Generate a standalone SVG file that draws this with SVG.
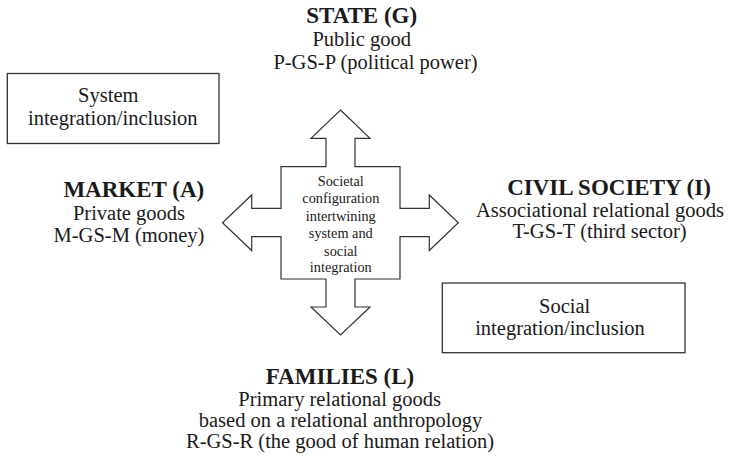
<svg xmlns="http://www.w3.org/2000/svg" width="730" height="458" viewBox="0 0 730 458" font-family="'Liberation Serif', serif">
<style>
.h { font-family: 'Liberation Serif', serif; font-size: 23px; font-weight: bold; fill: #1a1a1a; text-anchor: middle; }
.b { font-family: 'Liberation Serif', serif; font-size: 20.5px; fill: #1a1a1a; text-anchor: middle; }
.c { font-family: 'Liberation Serif', serif; font-size: 14.3px; fill: #1a1a1a; text-anchor: middle; }
.box { fill: #fff; stroke: #333; stroke-width: 1.3; }
.cross { fill: #fff; stroke: #333; stroke-width: 1.2; stroke-linejoin: miter; }
</style>
<rect width="730" height="458" fill="#fff"/>
<g id="connectors"></g>
<g id="center">
<path class="cross" d="M340.5,110 L370,138.3 L355,138.3 L355,166.7 L400,166.7 L400,208.3 L429.3,208.3 L429.3,195 L458.3,222.7 L429.3,250.5 L429.3,236.7 L400,236.7 L400,279 L355,279 L355,307 L370,307 L340.5,335 L311,307 L326,307 L326,279 L281,279 L281,236.7 L251.7,236.7 L251.7,250.5 L222.5,222.7 L251.7,195 L251.7,208.3 L281,208.3 L281,166.7 L326,166.7 L326,138.3 L311,138.3 Z"/>
<text class="c" x="340.8" y="186">Societal</text>
<text class="c" x="340.8" y="203.3">configuration</text>
<text class="c" x="340.8" y="221">intertwining</text>
<text class="c" x="340.8" y="237.8">system and</text>
<text class="c" x="340.8" y="255.5">social</text>
<text class="c" x="340.8" y="272">integration</text>
</g>
<g id="state">
<text class="h" x="361.7" y="22.5">STATE (G)</text>
<text class="b" x="361.7" y="46">Public good</text>
<text class="b" x="375.5" y="68.5">P-GS-P (political power)</text>
</g>
<g id="system-box">
<rect class="box" x="7.3" y="73.5" width="211.7" height="70"/>
<text class="b" x="108.3" y="101.7">System</text>
<text class="b" x="112.8" y="125">integration/inclusion</text>
</g>
<g id="market">
<text class="h" x="133.8" y="196.7">MARKET (A)</text>
<text class="b" x="129" y="220">Private goods</text>
<text class="b" x="129" y="241.7">M-GS-M (money)</text>
</g>
<g id="civil-society">
<text class="h" x="609" y="195">CIVIL SOCIETY (I)</text>
<text class="b" x="600" y="216.7">Associational relational goods</text>
<text class="b" x="599.5" y="238.3">T-GS-T (third sector)</text>
</g>
<g id="social-box">
<rect class="box" x="442.3" y="283" width="242.7" height="69.7"/>
<text class="b" x="564.7" y="312.7">Social</text>
<text class="b" x="560" y="335">integration/inclusion</text>
</g>
<g id="families">
<text class="h" x="340" y="384">FAMILIES (L)</text>
<text class="b" x="339.7" y="406">Primary relational goods</text>
<text class="b" x="340.5" y="426.7">based on a relational anthropology</text>
<text class="b" x="340" y="448.3">R-GS-R (the good of human relation)</text>
</g>
</svg>
